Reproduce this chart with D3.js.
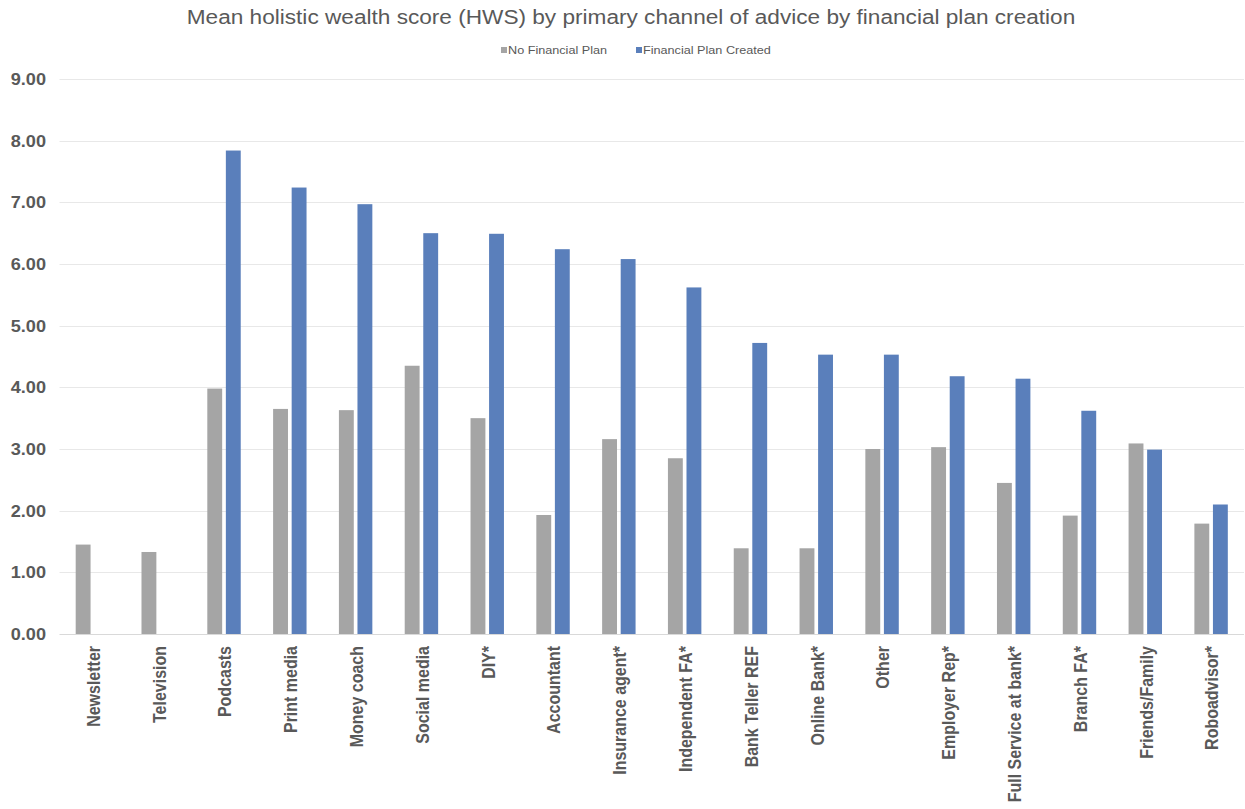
<!DOCTYPE html>
<html>
<head>
<meta charset="utf-8">
<script src="https://cdn.jsdelivr.net/npm/d3@7"></script>
<style>
  html, body { margin: 0; padding: 0; background: #ffffff; }
  svg { display: block; }
  text { font-family: "Liberation Sans", Arial, Helvetica, sans-serif; }
</style>
</head>
<body>
<svg id="chart" width="1245" height="809"></svg>
<script>
// Primary channel of advice (x-axis categories)
const categories = [
  "Newsletter", "Television", "Podcasts", "Print media", "Money coach",
  "Social media", "DIY*", "Accountant", "Insurance agent*", "Independent FA*",
  "Bank Teller REF", "Online Bank*", "Other", "Employer Rep*",
  "Full Service at bank*", "Branch FA*", "Friends/Family", "Roboadvisor*"
];

// Mean HWS, respondents without a financial plan
const noPlan = [
  1.45, 1.33, 3.98, 3.65, 3.63, 4.35, 3.50, 1.93, 3.16, 2.85,
  1.39, 1.39, 3.00, 3.03, 2.45, 1.92, 3.09, 1.79
];

// Mean HWS, respondents who created a financial plan (null = no bar)
const planCreated = [
  null, null, 7.84, 7.24, 6.97, 6.50, 6.49, 6.24, 6.08, 5.62,
  4.72, 4.53, 4.53, 4.18, 4.14, 3.62, 2.99, 2.10
];

const seriesNames = ["No Financial Plan", "Financial Plan Created"];
const seriesColors = ["#A5A5A5", "#5A7FBB"];
const yTicks = [0, 1, 2, 3, 4, 5, 6, 7, 8, 9];
const titleText = "Mean holistic wealth score (HWS) by primary channel of advice by financial plan creation";

const plot = { left: 59.5, right: 1244, top: 79, bottom: 634 };
const textColor = "#595959";
const sx = 1.1;       // horizontal stretch applied to the lettering
const titleSx = 1.16; // the title runs a little wider still

const svg = d3.select("#chart");

const x = d3.scaleBand()
  .domain(categories)
  .range([plot.left, plot.right])
  .paddingInner(0)
  .paddingOuter(0);

const y = d3.scaleLinear()
  .domain([0, 9])
  .range([plot.bottom, plot.top]);

const step = x.bandwidth();
const barW = step * 0.226;
const barGap = step * 0.056;

// Gridlines
svg.append("g")
  .selectAll("line")
  .data(yTicks)
  .join("line")
  .attr("x1", plot.left)
  .attr("x2", plot.right)
  .attr("y1", d => Math.round(y(d)) + 0.5)
  .attr("y2", d => Math.round(y(d)) + 0.5)
  .attr("stroke", d => d === 0 ? "#D9D9D9" : "#E8E8E8")
  .attr("stroke-width", 1);

// Y tick labels
svg.append("g")
  .selectAll("text")
  .data(yTicks)
  .join("text")
  .attr("transform", d => `translate(46,${y(d)}) scale(${sx},1)`)
  .attr("text-anchor", "end")
  .attr("dy", "0.36em")
  .attr("font-size", 16.5)
  .attr("font-weight", "bold")
  .attr("fill", textColor)
  .text(d => d3.format(".2f")(d));

// Bars
const rows = categories.map((c, i) => ({ c, vals: [noPlan[i], planCreated[i]] }));
const groups = svg.append("g")
  .selectAll("g")
  .data(rows)
  .join("g");

groups.selectAll("rect")
  .data(r => r.vals.map((v, k) => ({ c: r.c, v, k })).filter(d => d.v != null))
  .join("rect")
  .attr("x", d => {
    const cx = x(d.c) + step / 2;
    return d.k === 0 ? cx - barGap / 2 - barW : cx + barGap / 2;
  })
  .attr("y", d => y(d.v))
  .attr("width", barW)
  .attr("height", d => y(0) - y(d.v))
  .attr("fill", d => seriesColors[d.k]);

// X category labels, rotated
svg.append("g")
  .selectAll("text")
  .data(categories)
  .join("text")
  .attr("transform", d => `translate(${x(d) + step / 2 + 1},646) scale(${sx},1) rotate(-90)`)
  .attr("text-anchor", "end")
  .attr("dy", "0.36em")
  .attr("font-size", 16)
  .attr("font-weight", "bold")
  .attr("fill", textColor)
  .text(d => d);

// Title
svg.append("text")
  .attr("transform", `translate(631,24) scale(${titleSx},1)`)
  .attr("text-anchor", "middle")
  .attr("font-size", 19.5)
  .attr("fill", textColor)
  .text(titleText);

// Legend
const legendItems = [
  { name: seriesNames[0], color: seriesColors[0], x: 501 },
  { name: seriesNames[1], color: seriesColors[1], x: 636 }
];
const legend = svg.append("g");
legendItems.forEach(it => {
  legend.append("rect")
    .attr("x", it.x)
    .attr("y", 47)
    .attr("width", 6)
    .attr("height", 6)
    .attr("fill", it.color);
  legend.append("text")
    .attr("transform", `translate(${it.x + 7},50) scale(${sx},1)`)
    .attr("dy", "0.36em")
    .attr("font-size", 11.5)
    .attr("fill", textColor)
    .text(it.name);
});
</script>
</body>
</html>
